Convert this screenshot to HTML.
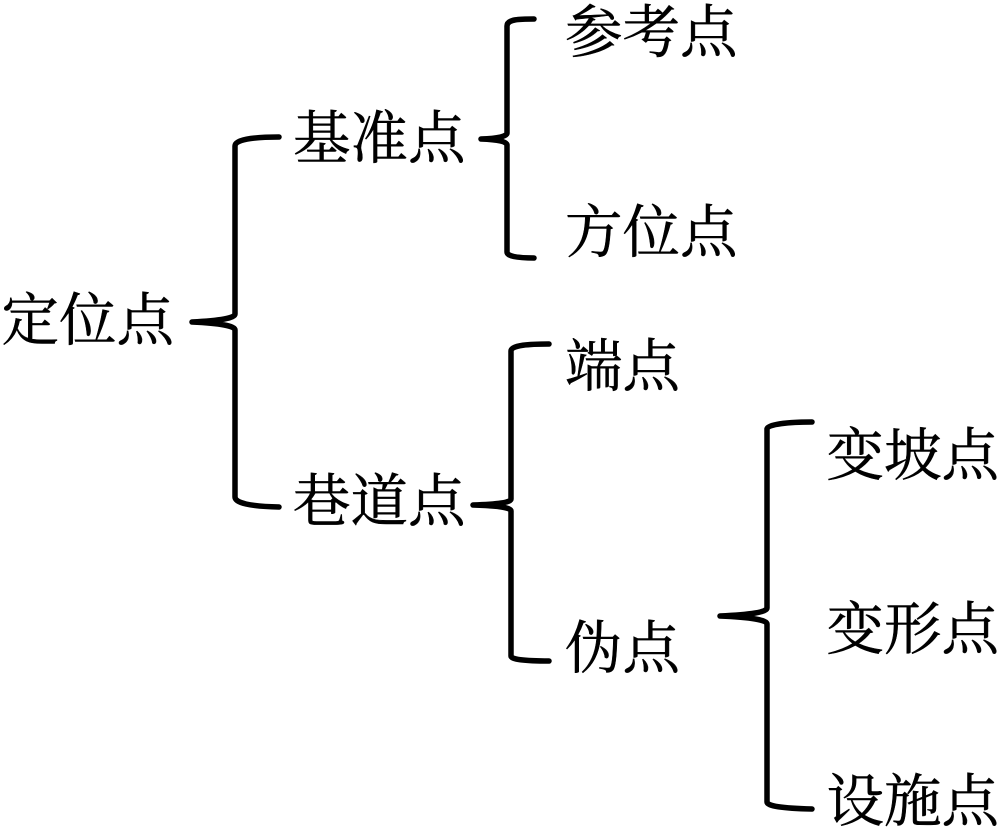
<!DOCTYPE html>
<html>
<head>
<meta charset="utf-8">
<style>
html,body{margin:0;padding:0;background:#fff;width:1001px;height:828px;overflow:hidden}
svg{display:block}
text{font-family:"Liberation Serif","Noto Serif CJK SC",serif;font-size:57.5px;fill:#000;stroke:#000;stroke-width:0.5px;letter-spacing:0}
path{fill:none;stroke:#000;stroke-width:5.5;stroke-linecap:round;stroke-linejoin:round}
</style>
</head>
<body>
<svg width="1001" height="828" viewBox="0 0 1001 828" xmlns="http://www.w3.org/2000/svg">
<path d="M279 137 C262 137 235 138 235 146 V314 Q235 320 192 322 Q235 324 235 330 V497 Q235 506 279 507"/>
<path d="M534 19 C520 19 507 19 507 26 V133 Q507 138 481 139 Q507 140 507 145 V252 Q507 258 534 258"/>
<path d="M549 344 C530 344 511 345 511 351 V499 Q511 504 473 505 Q511 506 511 511 V656 Q511 661 549 661"/>
<path d="M812 422 C790 422 767 424 767 429 V608 Q767 614 720 616 Q767 618 767 624 V802 Q767 808 812 809"/>
<text x="1.5" y="340">定位点</text>
<text x="293" y="158">基准点</text>
<text x="293" y="521">巷道点</text>
<text x="565" y="52">参考点</text>
<text x="565" y="252">方位点</text>
<text x="565" y="386">端点</text>
<text x="565" y="668">伪点</text>
<text x="826.5" y="475">变坡点</text>
<text x="826.5" y="649">变形点</text>
<text x="826.5" y="821">设施点</text>
</svg>
</body>
</html>
